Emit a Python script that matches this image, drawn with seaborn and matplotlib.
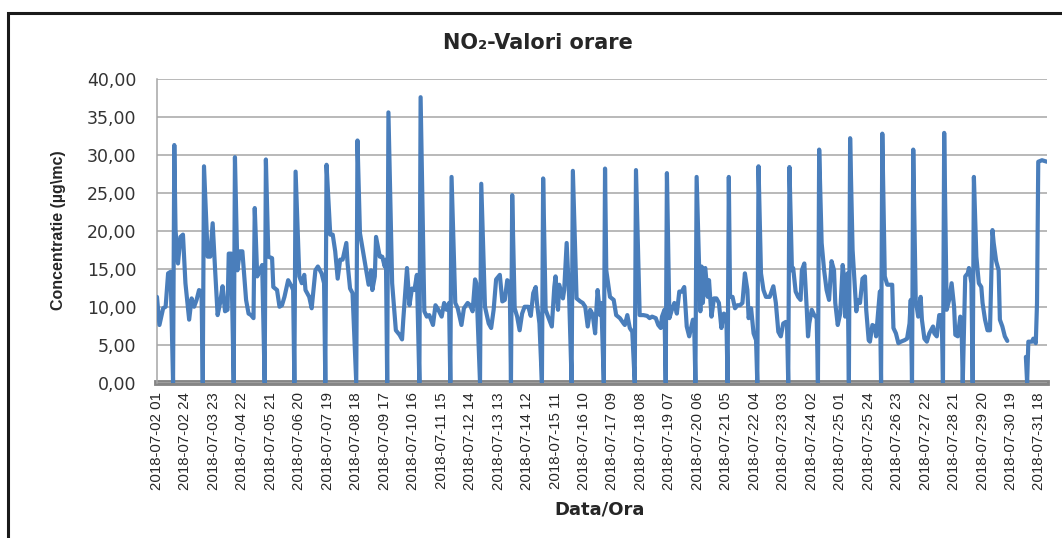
import numpy as np
import pandas as pd
import seaborn as sns
import matplotlib.pyplot as plt
from matplotlib.patches import Rectangle
from matplotlib.ticker import FuncFormatter, MultipleLocator

# ore de la 2018-07-02 01 (varfurile intre ele sunt drepte)
ore = [0, 2, 5, 7, 9, 11, 13, 14, 15, 17, 19, 21, 23, 26, 28, 30, 32, 34, 36, 37,
       38, 41, 43, 45, 47, 49, 51, 53, 55, 57, 58, 60, 62, 63, 65, 67, 69, 72, 74, 76,
       78, 79, 81, 83, 85, 87, 88, 90, 93, 94, 97, 99, 101, 103, 106, 109, 110, 111, 112, 115,
       117, 119, 120, 123, 125, 128, 130, 133, 135, 136, 137, 140, 142, 144, 146, 148, 150, 153, 154, 156,
       158, 161, 162, 164, 167, 169, 171, 173, 174, 176, 177, 180, 182, 184, 185, 186, 187, 190, 193, 196,
       198, 199, 202, 204, 206, 208, 210, 212, 213, 216, 218, 220, 223, 225, 227, 230, 232, 234, 236, 237,
       238, 241, 243, 246, 248, 251, 253, 255, 257, 258, 261, 262, 265, 268, 270, 272, 274, 277, 279, 281,
       283, 285, 286, 287, 289, 291, 293, 295, 297, 300, 302, 304, 306, 307, 309, 311, 312, 314, 316, 319,
       321, 322, 324, 325, 328, 329, 331, 333, 335, 336, 339, 342, 344, 346, 348, 350, 352, 354, 355, 356,
       358, 359, 361, 362, 363, 366, 369, 371, 374, 377, 378, 380, 382, 384, 386, 387, 390, 393, 396, 398,
       400, 403, 405, 407, 408, 410, 411, 412, 414, 416, 418, 420, 422, 424, 426, 428, 430, 433, 434, 435,
       436, 439, 440, 441, 443, 445, 446, 448, 450, 452, 454, 456, 458, 460, 461, 462, 463, 465, 467, 469,
       471, 473, 475, 477, 478, 480, 482, 484, 485, 486, 488, 490, 492, 495, 498, 500, 502, 504, 506, 508,
       509, 510, 511, 513, 514, 516, 518, 520, 521, 523, 525, 526, 527, 529, 531, 533, 534, 535, 537, 539,
       541, 543, 545, 547, 548, 550, 552, 554, 555, 556, 558, 559, 560, 562, 565, 566, 568, 570, 572, 573,
       575, 576, 578, 580, 581, 583, 584, 585, 586, 588, 590, 592, 594, 595, 597, 599, 601, 604, 606, 608,
       609, 610, 611, 613, 615, 617, 618, 620, 622, 624, 627, 628, 630, 632, 634, 635, 636, 638, 640, 642,
       644, 645, 647, 649, 650, 651, 653, 655, 656, 658, 659, 660, 662, 664, 666, 667, 669, 671, 673, 675,
       676, 678, 680, 681, 683, 685, 687, 695, 702, 703, 704, 707, 708, 710, 711, 712, 715, 719]

valori = [11.3, 7.6, 9.8, 10.0, 14.4, 14.6, 0, 31.3, 20.1, 15.7, 19.2, 19.5, 13.1, 8.3, 11.1, 10.0, 10.9, 12.2, 12.0, 0,
          28.5, 16.6, 16.6, 21.0, 14.8, 8.9, 10.5, 12.7, 9.4, 9.6, 17.0, 17.0, 0, 29.7, 14.8, 17.3, 17.3, 10.9, 9.1, 8.9,
          8.5, 23.0, 14.0, 14.8, 15.5, 0, 29.4, 16.6, 16.4, 12.6, 12.2, 10.0, 10.2, 11.3, 13.5, 12.6, 12.2, 0, 27.8, 14.0,
          13.1, 14.2, 12.2, 11.3, 9.8, 14.8, 15.3, 14.4, 13.1, 0, 28.7, 19.5, 19.5, 17.3, 13.7, 16.2, 16.2, 18.4, 15.7, 12.4,
          11.8, 0, 31.9, 19.7, 16.8, 14.8, 12.9, 14.8, 12.2, 14.0, 19.2, 16.6, 16.6, 15.3, 16.2, 0, 35.6, 13.1, 6.9, 6.3,
          5.7, 8.3, 15.1, 10.2, 12.4, 12.2, 14.2, 0, 37.6, 9.4, 8.7, 8.9, 7.6, 10.2, 9.7, 8.7, 10.5, 9.6, 10.5, 0,
          27.1, 10.5, 9.8, 7.6, 9.8, 10.5, 10.2, 9.4, 13.6, 13.1, 0, 26.2, 10.0, 7.8, 7.2, 9.6, 13.6, 14.2, 10.7, 10.9,
          13.5, 13.1, 0, 24.7, 9.8, 8.7, 6.9, 9.1, 10.0, 10.0, 8.8, 11.8, 12.6, 10.5, 7.8, 0, 26.9, 9.6, 8.7, 7.4,
          12.6, 14.0, 9.6, 12.9, 11.1, 12.2, 18.4, 11.3, 0, 27.9, 11.1, 10.7, 10.5, 10.0, 7.4, 9.6, 9.0, 6.5, 9.6, 12.2,
          8.9, 10.5, 0, 28.2, 14.8, 11.3, 10.9, 8.9, 8.5, 7.8, 7.6, 8.9, 7.2, 6.7, 0, 28.0, 8.9, 8.9, 8.8, 8.5,
          8.7, 8.5, 7.6, 7.2, 8.7, 9.6, 0, 27.6, 8.5, 9.6, 10.5, 9.1, 12.0, 12.0, 12.6, 7.4, 6.1, 8.3, 7.8, 0,
          27.1, 9.4, 15.3, 10.5, 15.1, 11.3, 13.5, 8.7, 11.1, 11.1, 10.5, 7.2, 9.1, 8.8, 0, 27.1, 11.3, 11.3, 9.8, 10.2,
          10.2, 10.5, 14.4, 12.2, 8.5, 9.8, 6.5, 5.6, 0, 28.5, 14.4, 12.2, 11.3, 11.3, 12.7, 10.5, 6.7, 6.1, 7.8, 8.0,
          7.8, 0, 28.4, 14.8, 15.1, 12.0, 11.3, 10.9, 14.8, 15.7, 9.6, 6.1, 7.8, 9.6, 8.9, 8.5, 0, 30.7, 18.4, 14.8,
          12.2, 10.9, 16.0, 14.8, 10.5, 7.6, 9.1, 15.5, 14.0, 8.7, 14.4, 0, 32.2, 17.5, 9.4, 10.9, 10.5, 13.7, 14.0, 9.6,
          5.6, 5.4, 7.6, 7.4, 6.1, 10.0, 12.0, 0, 32.8, 14.0, 12.9, 12.9, 12.9, 7.2, 6.5, 5.2, 5.4, 5.6, 5.8, 7.8,
          10.9, 0, 30.7, 10.9, 8.7, 11.3, 8.3, 5.8, 5.4, 6.5, 7.4, 6.5, 6.1, 8.9, 8.9, 0, 32.9, 9.6, 10.9, 13.1,
          10.0, 6.3, 6.1, 8.7, 7.8, 0, 14.0, 14.4, 15.1, 13.1, 0, 27.1, 16.6, 13.1, 12.6, 10.5, 8.3, 6.9, 6.9, 20.1,
          18.4, 16.0, 14.8, 8.3, 7.4, 6.1, 5.5, np.nan, 3.4, 0, 5.4, 5.4, 5.8, 5.2, 10.5, 29.1, 29.3, 29.1]

etichete = ["2018-07-02 01", "2018-07-02 24", "2018-07-03 23", "2018-07-04 22", "2018-07-05 21",
            "2018-07-06 20", "2018-07-07 19", "2018-07-08 18", "2018-07-09 17", "2018-07-10 16",
            "2018-07-11 15", "2018-07-12 14", "2018-07-13 13", "2018-07-14 12", "2018-07-15 11",
            "2018-07-16 10", "2018-07-17 09", "2018-07-18 08", "2018-07-19 07", "2018-07-20 06",
            "2018-07-21 05", "2018-07-22 04", "2018-07-23 03", "2018-07-24 02", "2018-07-25 01",
            "2018-07-25 24", "2018-07-26 23", "2018-07-27 22", "2018-07-28 21", "2018-07-29 20",
            "2018-07-30 19", "2018-07-31 18"]
pas_eticheta = 23  # o eticheta la 23 de ore

df = pd.DataFrame({"Ora": ore, "NO2": valori})
df["tratto"] = df["NO2"].isna().cumsum()  # lipsa de date -> linia se rupe

sns.set_style("white")
plt.rcParams["font.family"] = ["DejaVu Sans"]

fig = plt.figure(figsize=(10.62, 5.38), dpi=100)
ax = fig.add_axes([0.1478, 0.2887, 0.838, 0.5645])

sns.lineplot(data=df.dropna(), x="Ora", y="NO2", units="tratto", estimator=None,
             color="#4a7ebb", linewidth=3.0, legend=False, ax=ax, zorder=3)

ax.set_xlim(0, 719)
ax.set_ylim(0, 40)
ax.yaxis.set_major_locator(MultipleLocator(5))
ax.yaxis.set_major_formatter(FuncFormatter(lambda v, p: f"{v:.2f}".replace(".", ",")))
ax.grid(axis="y", color="#a6a6a6", linewidth=1.1)
ax.set_axisbelow(True)

ax.set_xticks([i * pas_eticheta for i in range(len(etichete))])
ax.set_xticklabels(etichete, rotation=90, fontfamily="Liberation Sans", fontsize=10.8)
ax.tick_params(axis="y", length=6, color="#a6a6a6", labelsize=12.5, labelcolor="#333333", pad=9)
ax.tick_params(axis="x", length=4, color="#d0d0d0", width=1.3, direction="in", pad=7)

for s in ["top", "right"]:
    ax.spines[s].set_visible(False)
ax.spines["left"].set_color("#a6a6a6")
ax.spines["left"].set_linewidth(1.1)
ax.spines["bottom"].set_color("#858585")
ax.spines["bottom"].set_linewidth(4.2)
ax.spines["bottom"].set_zorder(0.4)
ax.set_xlabel("")
ax.set_ylabel("")

fig.text(0.5066, 0.920, "NO₂-Valori orare", ha="center", va="center",
         fontsize=15, fontweight="bold")
fig.text(58 / 1062, 1 - 230 / 538, "Concentratie (µg\\mc)", rotation=90, ha="center",
         va="center", fontsize=11.5, fontweight="bold", family="Liberation Sans")
fig.text(600 / 1062, 1 - 509 / 538, "Data/Ora", ha="center", va="center",
         fontsize=13, fontweight="bold")

fig.add_artist(Rectangle((8 / 1062, -0.1), 1.2, 1.076, transform=fig.transFigure,
                         fill=False, edgecolor="#1a1a1a", linewidth=2.2))

fig.savefig("out.png", dpi=100)
